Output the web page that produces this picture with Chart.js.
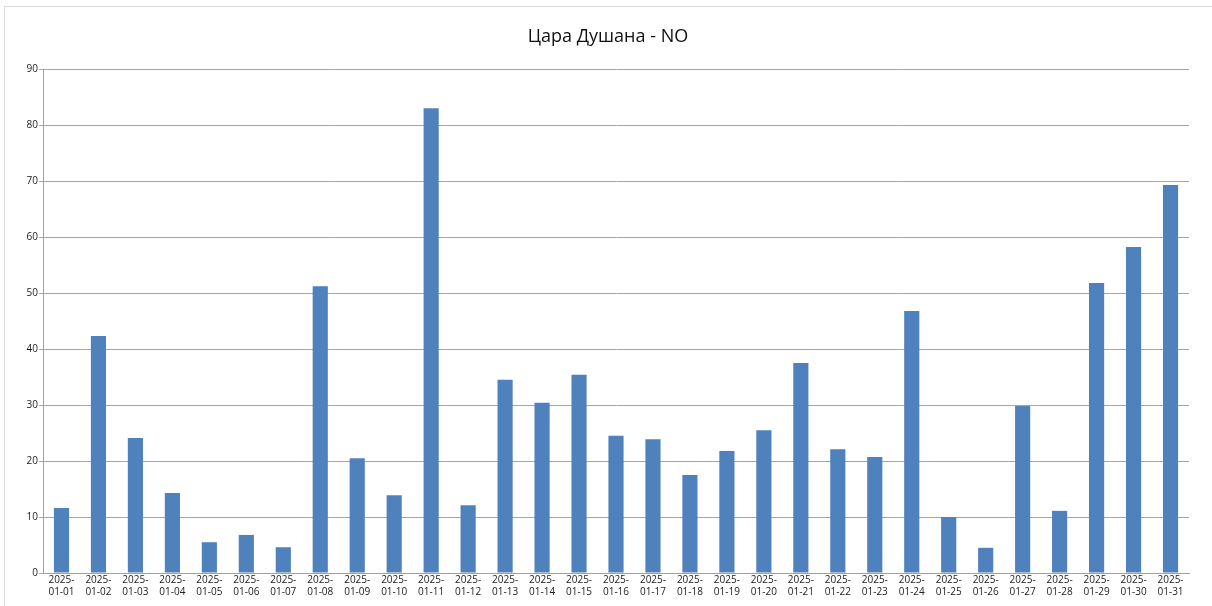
<!DOCTYPE html>
<html>
<head>
<meta charset="utf-8">
<script src="https://cdn.jsdelivr.net/npm/chart.js@4"></script>
<style>
  html, body { margin: 0; padding: 0; background: #fff; }
  #wrap { width: 1212px; height: 606px; position: relative; }
</style>
</head>
<body>
<div id="wrap"><canvas id="chart" width="1212" height="606"></canvas></div>
<script>
const titleText = "Цара Душана - NO";
const days = [
  "01-01", "01-02", "01-03", "01-04", "01-05", "01-06", "01-07", "01-08",
  "01-09", "01-10", "01-11", "01-12", "01-13", "01-14", "01-15", "01-16",
  "01-17", "01-18", "01-19", "01-20", "01-21", "01-22", "01-23", "01-24",
  "01-25", "01-26", "01-27", "01-28", "01-29", "01-30", "01-31",
];
const values = [
  11.6, 42.3, 24.1, 14.3, 5.5, 6.8, 4.6, 51.2,
  20.5, 13.9, 83.0, 12.1, 34.5, 30.4, 35.4, 24.5,
  23.9, 17.5, 21.8, 25.5, 37.5, 22.1, 20.7, 46.8,
  10.0, 4.5, 29.8, 11.1, 51.8, 58.2, 69.3,
];
const yTicks = [0, 10, 20, 30, 40, 50, 60, 70, 80, 90];

Chart.defaults.font.family = "'Open Sans', sans-serif";
Chart.defaults.color = "#222";

// white page, thin grey frame and the title centred on the frame
const frame = {
  id: "frame",
  beforeDraw(chart) {
    const ctx = chart.ctx;
    ctx.save();
    ctx.fillStyle = "#fff";
    ctx.fillRect(0, 0, chart.width, chart.height);
    ctx.strokeStyle = "#d9d9d9";
    ctx.lineWidth = 1;
    ctx.strokeRect(4.5, 6.5, chart.width, chart.height);
    ctx.fillStyle = "#111";
    ctx.font = "18px 'Open Sans', sans-serif";
    ctx.textAlign = "center";
    ctx.textBaseline = "middle";
    ctx.fillText(titleText, (4 + chart.width) / 2, 37);
    ctx.restore();
  },
};

new Chart(document.getElementById("chart"), {
  type: "bar",
  data: {
    labels: days.map((d) => ["2025-", d]),
    datasets: [
      {
        label: titleText,
        data: values,
        backgroundColor: "#4f81bd",
        barPercentage: 0.41,
        categoryPercentage: 1,
      },
    ],
  },
  options: {
    responsive: false,
    animation: false,
    layout: { padding: { left: 4, right: 23, top: 69, bottom: 0 } },
    plugins: {
      legend: { display: false },
      tooltip: { enabled: false },
      title: { display: false },
    },
    scales: {
      x: {
        grid: { display: false, drawTicks: false },
        border: { color: "#a0a0a0" },
        ticks: {
          maxRotation: 0,
          autoSkip: false,
          padding: 1,
          font: { size: 10, lineHeight: 1.2 },
        },
        afterFit: (s) => { s.height = 33; },
      },
      y: {
        min: 0,
        max: 90,
        afterBuildTicks: (s) => { s.ticks = yTicks.map((v) => ({ value: v })); },
        grid: { color: "#a6a6a6", tickLength: 4, drawTicks: true },
        border: { color: "#a0a0a0" },
        ticks: { padding: 1, font: { size: 10 } },
        afterFit: (s) => { s.width = 39; },
      },
    },
  },
  plugins: [frame],
});
</script>
</body>
</html>
